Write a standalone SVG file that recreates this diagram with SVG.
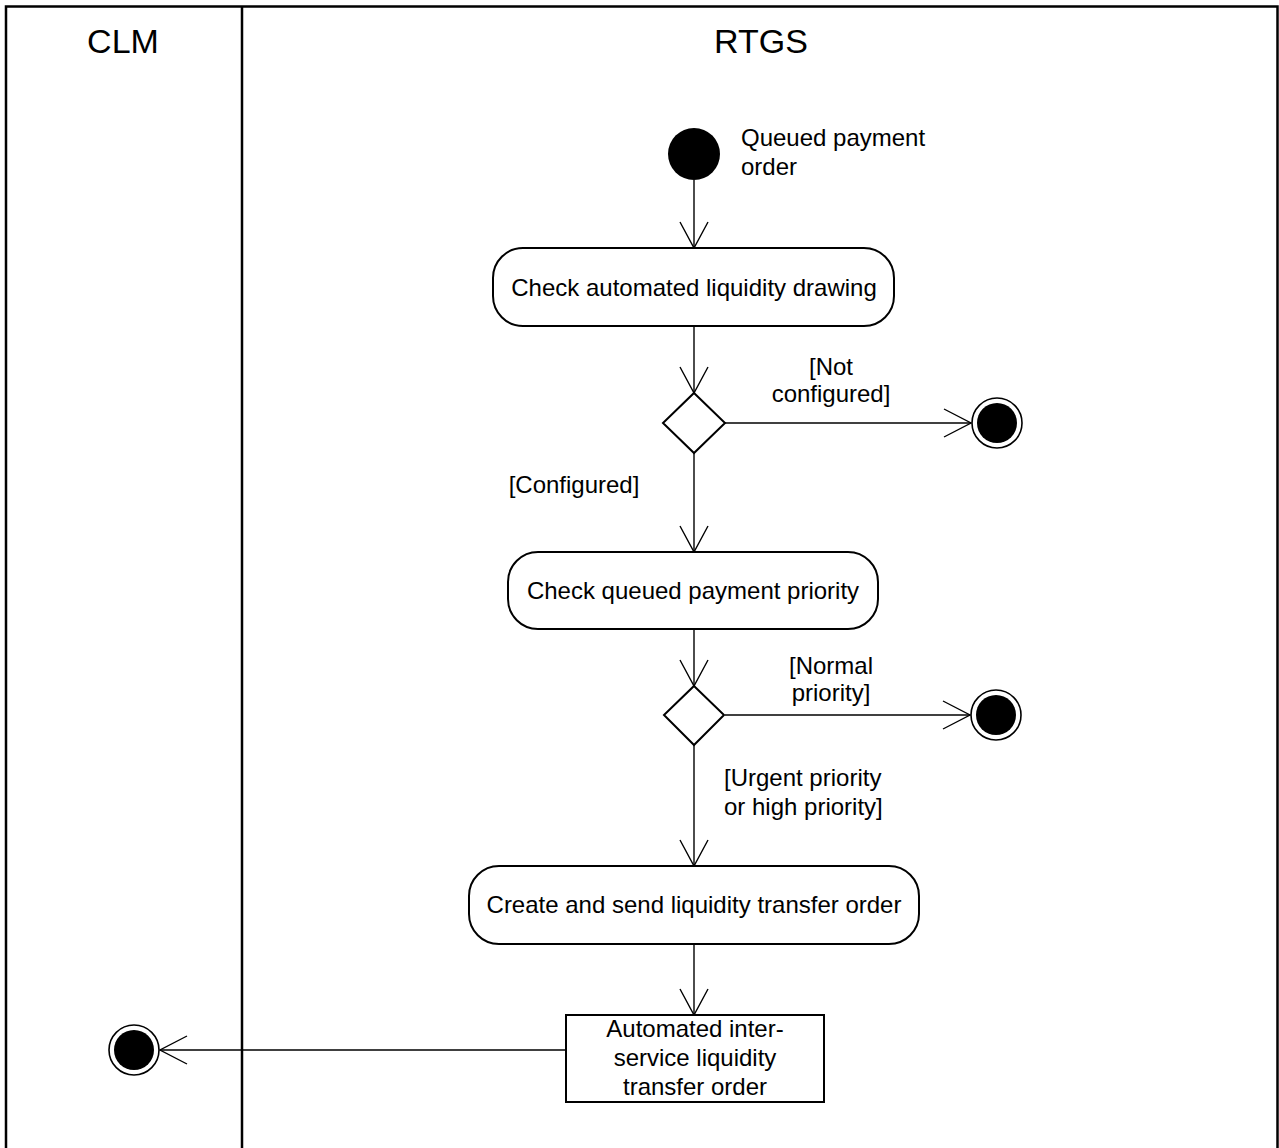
<svg xmlns="http://www.w3.org/2000/svg" width="1279" height="1148" viewBox="0 0 1279 1148">
<defs>
<style>
text{font-family:"Liberation Sans",Arial,sans-serif;font-size:24px;fill:#000}
.lane{font-size:34px;text-anchor:middle}
.c{text-anchor:middle}
.frame{fill:none;stroke:#000;stroke-width:2.5}
.act{fill:#fff;stroke:#000;stroke-width:2}
.edge{fill:none;stroke:#000;stroke-width:1.4}
.head{fill:none;stroke:#000;stroke-width:1.4}
</style>
</defs>
<rect width="1279" height="1148" fill="#fff"/>
<g id="swimlanes">
<path class="frame" d="M6,1148 V6.5 H1277.5 V1148"/>
<line class="frame" x1="242" y1="6" x2="242" y2="1148"/>
<text class="lane" x="123" y="53">CLM</text>
<text class="lane" x="761" y="53">RTGS</text>
</g>
<g id="connectors">
<line class="edge" x1="694" y1="180" x2="694" y2="248"/>
<path class="head" d="M680,222 L694,248 L708,222"/>
<line class="edge" x1="694" y1="326" x2="694" y2="393"/>
<path class="head" d="M680,367 L694,393 L708,367"/>
<line class="edge" x1="725" y1="423" x2="971" y2="423"/>
<path class="head" d="M944,409 L971,423 L944,437"/>
<line class="edge" x1="694" y1="453" x2="694" y2="552"/>
<path class="head" d="M680,526 L694,552 L708,526"/>
<line class="edge" x1="694" y1="629" x2="694" y2="686"/>
<path class="head" d="M680,660 L694,686 L708,660"/>
<line class="edge" x1="725" y1="715" x2="970" y2="715"/>
<path class="head" d="M943,701 L970,715 L943,729"/>
<line class="edge" x1="694" y1="745" x2="694" y2="866"/>
<path class="head" d="M680,840 L694,866 L708,840"/>
<line class="edge" x1="694" y1="944" x2="694" y2="1015"/>
<path class="head" d="M680,989 L694,1015 L708,989"/>
<line class="edge" x1="566" y1="1050" x2="160" y2="1050"/>
<path class="head" d="M187,1036 L160,1050 L187,1064"/>
<text x="831" y="375" class="c">[Not</text>
<text x="831" y="402" class="c">configured]</text>
<text x="574" y="493" class="c">[Configured]</text>
<text x="831" y="674" class="c">[Normal</text>
<text x="831" y="701" class="c">priority]</text>
<text x="724" y="786">[Urgent priority</text>
<text x="724" y="815">or high priority]</text>
</g>
<g id="start">
<circle cx="694" cy="154" r="26" fill="#000"/>
<text x="741" y="146">Queued payment</text>
<text x="741" y="175">order</text>
</g>
<g id="check-drawing">
<rect class="act" x="493" y="248" width="401" height="78" rx="30"/>
<text x="694" y="296" class="c">Check automated liquidity drawing</text>
</g>
<g id="decision1">
<polygon class="act" points="694,393 725,423 694,453 663,423"/>
</g>
<g id="end1">
<circle cx="997" cy="423" r="25" fill="#fff" stroke="#000" stroke-width="1.6"/>
<circle cx="997" cy="423" r="20" fill="#000"/>
</g>
<g id="check-priority">
<rect class="act" x="508" y="552" width="370" height="77" rx="30"/>
<text x="693" y="599" class="c">Check queued payment priority</text>
</g>
<g id="decision2">
<polygon class="act" points="694,686 724,715 694,745 664,715"/>
</g>
<g id="end2">
<circle cx="996" cy="715" r="25" fill="#fff" stroke="#000" stroke-width="1.6"/>
<circle cx="996" cy="715" r="20" fill="#000"/>
</g>
<g id="create-send">
<rect class="act" x="469" y="866" width="450" height="78" rx="30"/>
<text x="694" y="913" class="c">Create and send liquidity transfer order</text>
</g>
<g id="object-order">
<rect class="act" x="566" y="1015" width="258" height="87"/>
<text x="695" y="1037" class="c">Automated inter-</text>
<text x="695" y="1066" class="c">service liquidity</text>
<text x="695" y="1095" class="c">transfer order</text>
</g>
<g id="end3">
<circle cx="134" cy="1050" r="25" fill="#fff" stroke="#000" stroke-width="1.6"/>
<circle cx="134" cy="1050" r="20" fill="#000"/>
</g>
</svg>
